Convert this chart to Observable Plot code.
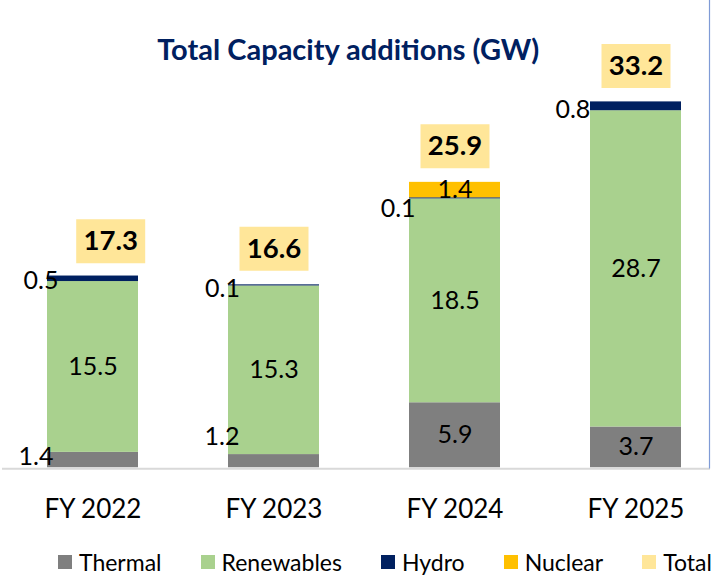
<!DOCTYPE html>
<html>
<head>
<meta charset="utf-8">
<script src="https://cdn.jsdelivr.net/npm/d3@7"></script>
<script src="https://cdn.jsdelivr.net/npm/@observablehq/plot@0.6"></script>
<style>
  body { margin: 0; background: #fff; font-family: Lato, sans-serif; overflow: hidden; }
  #chart { width: 717px; overflow: hidden; }
  .lg-swatches { margin-left: 58px !important; margin-top: 15px !important; font-family: Lato, sans-serif !important; font-size: 23px !important; color: #000 !important; flex-wrap: nowrap !important; white-space: nowrap !important; }
  .lg-swatch { margin-right: 39px !important; flex-shrink: 0 !important; }
  .lg-swatch > svg { margin-right: 7px !important; }
</style>
</head>
<body>
<div id="chart"></div>
<script>
// ---- data ----
const years = ["FY 2022", "FY 2023", "FY 2024", "FY 2025"];
const seriesNames = ["Thermal", "Renewables", "Hydro", "Nuclear"];
const thermal = [1.4, 1.2, 5.9, 3.7];
const renewables = [15.5, 15.3, 18.5, 28.7];
const hydro = [0.5, 0.1, 0.1, 0.8];
const nuclear = [0, 0, 1.4, 0];
const totals = [17.3, 16.6, 25.9, 33.2];
const legendNames = ["Thermal", "Renewables", "Hydro", "Nuclear", "Total"];
const title = "Total Capacity additions (GW)";

// ---- styling ----
const palette = ["#7F7F7F", "#A9D18E", "#002060", "#FFC000", "#FFE699"];
const seriesColor = Object.fromEntries(seriesNames.map((s, i) => [s, palette[i]]));

// build stacked rows from the arrays
const seriesValues = [thermal, renewables, hydro, nuclear];
const rows = [];
years.forEach((year, i) => {
  let base = 0;
  seriesNames.forEach((name, j) => {
    const v = seriesValues[j][i];
    rows.push({year, series: name, value: v, y1: base, y2: base + v, mid: base + v / 2});
    base += v;
  });
});
const segs = rows.filter(d => d.value > 0);
const totalRows = years.map((year, i) => ({year, total: totals[i]}));

// labels placed beside the bar (as in the original chart)
const outside = [
  {year: "FY 2022", series: "Thermal", dx: -39.5, dy: -2.6},
  {year: "FY 2023", series: "Thermal", dx: -34.5, dy: -23.7},
  {year: "FY 2022", series: "Hydro", dx: -34.5, dy: 2.7},
  {year: "FY 2023", series: "Hydro", dx: -34, dy: 3.4},
  {year: "FY 2024", series: "Hydro", dx: -39.4, dy: 11},
  {year: "FY 2025", series: "Hydro", dx: -45.7, dy: 4}
];
const isOutside = d => outside.some(o => o.year === d.year && o.series === d.series);

const boxSymbol = {
  draw(ctx) {
    ctx.moveTo(-34.5, -22); ctx.lineTo(34.5, -22); ctx.lineTo(34.5, 22); ctx.lineTo(-34.5, 22); ctx.closePath();
  }
};

const labelFont = {fontSize: 25, fontFamily: "Lato", fill: "#000"};
const totalFont = {fontSize: 27.5, fontFamily: "Lato", fontWeight: "bold", fill: "#000"};
const fmt = d => d.value.toFixed(1);

const plot = Plot.plot({
  width: 717,
  height: 530,
  marginLeft: 46.5,
  marginRight: 36,
  marginTop: 0,
  marginBottom: 62.7,
  style: {fontFamily: "Lato", color: "#000", background: "#fff", overflow: "visible"},
  x: {domain: years, paddingInner: 0.5, paddingOuter: 0, label: null},
  y: {domain: [0, 42.4], axis: null},
  marks: [
    Plot.barY(segs, {x: "year", y1: "y1", y2: "y2", fill: d => seriesColor[d.series]}),
    Plot.ruleY([0], {stroke: "#D9D9D9", strokeWidth: 2, insetLeft: -44.5, insetRight: -29, dy: 1}),
    Plot.frame({anchor: "right", stroke: "#7F9BD6", strokeWidth: 1.2, insetRight: -28}),
    Plot.axisX({tickSize: 0, tickPadding: 31.5, fontSize: 26, fontFamily: "Lato", label: null}),
    Plot.text(segs.filter(d => !isOutside(d)), {x: "year", y: "mid", text: fmt, ...labelFont}),
    ...outside.map(o => Plot.text(segs.filter(d => d.year === o.year && d.series === o.series),
      {x: "year", y: "mid", text: fmt, textAnchor: "end", dx: o.dx, dy: o.dy, ...labelFont})),
    Plot.dot(totalRows.slice(0, 1), {x: "year", y: "total", symbol: boxSymbol, fill: palette[4], dy: -36, dx: 17.7}),
    Plot.dot(totalRows.slice(1), {x: "year", y: "total", symbol: boxSymbol, fill: palette[4], dy: -36}),
    Plot.text(totalRows.slice(0, 1), {x: "year", y: "total", text: d => d.total.toFixed(1), dy: -36, dx: 17.7, ...totalFont}),
    Plot.text(totalRows.slice(1), {x: "year", y: "total", text: d => d.total.toFixed(1), dy: -36, ...totalFont}),
    Plot.text([title], {frameAnchor: "top", lineAnchor: "middle", dx: -16, dy: 50, fontSize: 29, fontWeight: "bold", fontFamily: "Lato", fill: "#002060"})
  ]
});

const legend = Plot.legend({
  color: {domain: legendNames, range: palette},
  legend: "swatches",
  swatchSize: 14,
  className: "lg",
  style: {fontSize: "23px", fontFamily: "Lato", color: "#000"}
});

document.getElementById("chart").append(plot, legend);
</script>
</body>
</html>
